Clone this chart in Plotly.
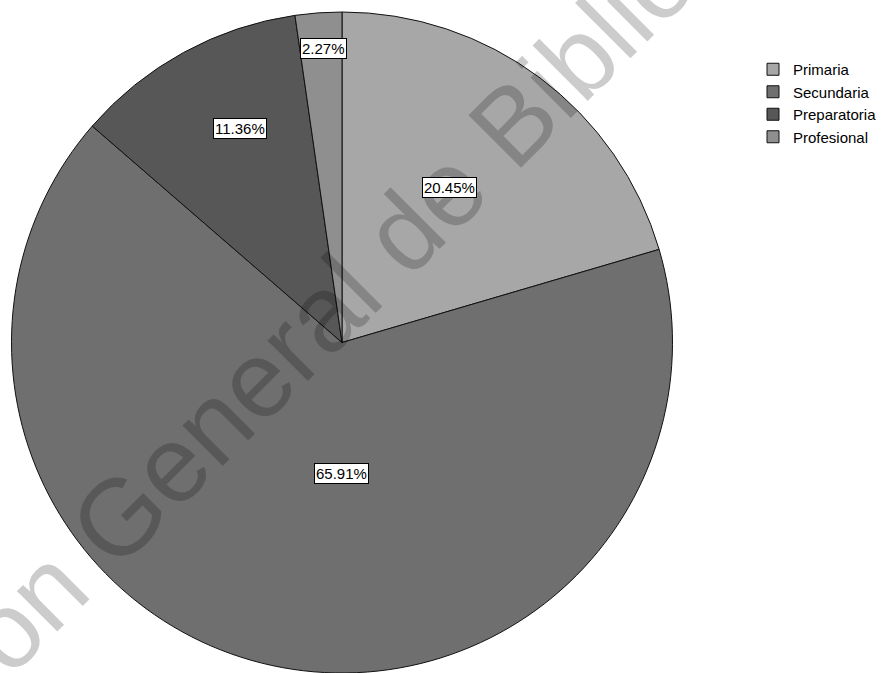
import math
import plotly.graph_objects as go

# Nivel de estudios (frecuencias, n = 44)
categories = ["Primaria", "Secundaria", "Preparatoria", "Profesional"]
counts = [9, 29, 5, 1]
slice_colors = ["#a7a7a7", "#6f6f6f", "#575757", "#8f8f8f"]

# placement of each percentage box inside its slice:
# fraction of the radius, and fraction of the slice's sweep (0 = start, 1 = end)
label_radius = [0.571, 0.396, 0.717, 0.891]
label_sweep = [0.47, 0.45, 0.575, 0.56]

W, H = 886, 673
dom_x = [11.5 / W, 672.5 / W]
dom_y = [0.0, 1 - 12 / H]
FONT = "Liberation Sans, Arial, sans-serif"

fig = go.Figure(
    go.Pie(
        labels=categories,
        values=counts,
        sort=False,
        direction="clockwise",
        rotation=0,
        textinfo="none",
        hoverinfo="label+percent",
        marker=dict(colors=slice_colors, line=dict(color="#111111", width=1)),
        domain=dict(x=dom_x, y=dom_y),
    )
)

cx = (dom_x[0] + dom_x[1]) / 2 * W
cy = (1 - (dom_y[0] + dom_y[1]) / 2) * H
radius = min((dom_x[1] - dom_x[0]) * W, (dom_y[1] - dom_y[0]) * H) / 2
total = sum(counts)
annotations = []

# diagonal watermark across the page
annotations.append(
    dict(
        text="Dirección General de Bibliotecas",
        x=303 / W,
        y=1 - 332 / H,
        xref="paper",
        yref="paper",
        xanchor="center",
        yanchor="middle",
        textangle=-45,
        showarrow=False,
        font=dict(family=FONT, size=108, color="rgba(0,0,0,0.2)"),
    )
)

# percentage boxes, angle taken from the cumulative slice values
cum = 0
for v, rf, sf in zip(counts, label_radius, label_sweep):
    ang = (cum + v * sf) / total * 2 * math.pi
    cum += v
    px = cx + rf * radius * math.sin(ang)
    py = cy - rf * radius * math.cos(ang)
    annotations.append(
        dict(
            text=f"{v / total * 100:.2f}%",
            x=px / W,
            y=1 - py / H,
            xref="paper",
            yref="paper",
            xanchor="center",
            yanchor="middle",
            showarrow=False,
            bgcolor="white",
            bordercolor="black",
            borderwidth=1,
            borderpad=1,
            font=dict(family=FONT, size=15, color="black"),
        )
    )

fig.update_layout(
    width=W,
    height=H,
    margin=dict(l=0, r=0, t=0, b=0),
    paper_bgcolor="white",
    plot_bgcolor="white",
    showlegend=True,
    legend=dict(
        x=753 / W,
        y=1 - 53 / H,
        xanchor="left",
        yanchor="top",
        font=dict(family=FONT, size=15, color="black"),
        bgcolor="rgba(0,0,0,0)",
        itemclick=False,
        tracegroupgap=0,
    ),
    annotations=annotations,
)

fig.write_html("out.html")
